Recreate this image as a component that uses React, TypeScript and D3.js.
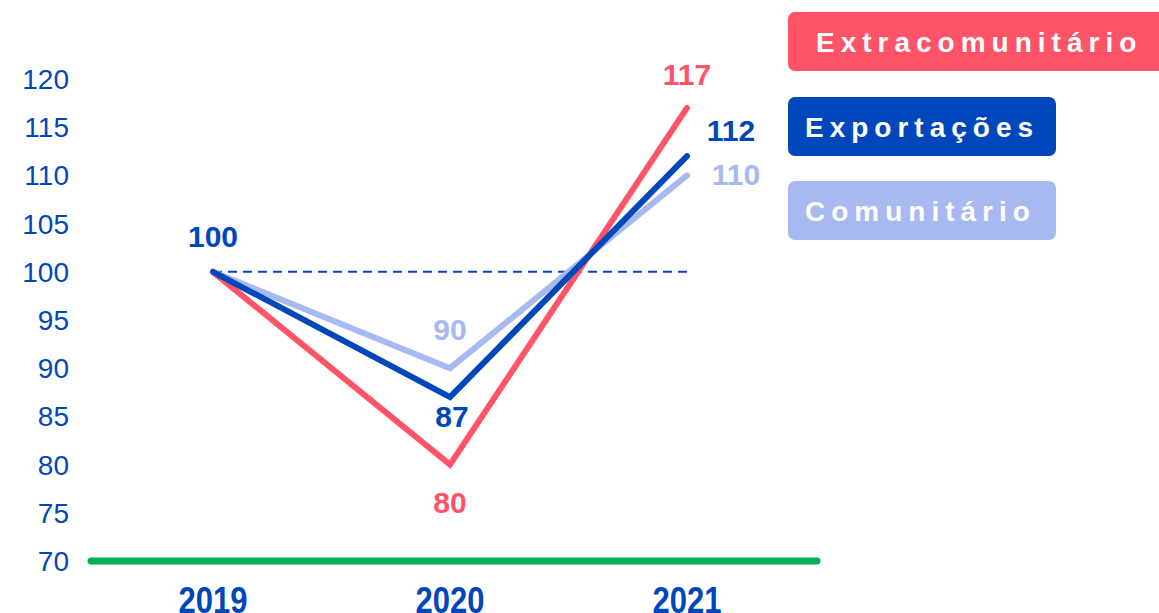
import React from 'react';
import * as d3 from 'd3';

// chart values
const years = ['2019', '2020', '2021'];
const extracomunitario = [100, 80, 117];
const exportacoes = [100, 87, 112];
const comunitario = [100, 90, 110];
const yTicks = [70, 75, 80, 85, 90, 95, 100, 105, 110, 115, 120];
const legendLabels = ['Extracomunitário', 'Exportações', 'Comunitário'];

const RED = '#FF5468';
const BLUE = '#0047BB';
const LIGHT = '#A7B9F1';
const GREEN = '#00B050';

const W = 1159;
const H = 613;

interface Series {
  name: string;
  values: number[];
  color: string;
  // label offsets per point [dx, dy] relative to the point, null = no label
  labels: ([number, number] | null)[];
}

const App: React.FC = () => {
  const x = d3.scalePoint<string>().domain(years).range([213, 687]);
  const y = d3.scaleLinear().domain([70, 120]).range([561, 79]);

  const line = d3
    .line<number>()
    .x((_, i) => x(years[i])!)
    .y(d => y(d));

  const series: Series[] = [
    { name: legendLabels[0], values: extracomunitario, color: RED, labels: [null, [0, 48], [0, -23]] },
    { name: legendLabels[2], values: comunitario, color: LIGHT, labels: [null, [0, -28], [49, 10]] },
    { name: legendLabels[1], values: exportacoes, color: BLUE, labels: [[0, -25], [2, 30], [44, -15]] },
  ];

  const legend = [
    { label: legendLabels[0], color: RED, y: 12, w: 380 },
    { label: legendLabels[1], color: BLUE, y: 97, w: 268 },
    { label: legendLabels[2], color: LIGHT, y: 181, w: 268 },
  ];

  const sans = 'Arial, "Liberation Sans", Helvetica, sans-serif';

  return (
    <svg width={W} height={H} style={{ position: 'absolute', left: 0, top: 0, background: '#fff' }}>
      {/* y tick labels */}
      <g fontFamily={sans} fontSize={28} fill={BLUE} textAnchor="end">
        {yTicks.map(t => (
          <text key={t} x={69} y={y(t)} dy="0.36em">
            {t}
          </text>
        ))}
      </g>

      {/* baseline */}
      <line x1={91} x2={817} y1={y(70)} y2={y(70)} stroke={GREEN} strokeWidth={7} strokeLinecap="round" />

      {/* year labels (tall, condensed look) */}
      <g fontFamily={sans} fontWeight="bold" fontSize={31} fill={BLUE} textAnchor="middle">
        {years.map(yr => (
          <text key={yr} transform={`translate(${x(yr)},613) scale(1,1.2)`}>
            {yr}
          </text>
        ))}
      </g>

      {/* reference line at 100 */}
      <line
        x1={x(years[0])}
        x2={x(years[2])}
        y1={y(100)}
        y2={y(100)}
        stroke={BLUE}
        strokeWidth={2}
        strokeDasharray="9 6"
      />

      {/* series lines */}
      {series.map(s => (
        <path
          key={s.name}
          d={line(s.values) ?? ''}
          fill="none"
          stroke={s.color}
          strokeWidth={6}
          strokeLinecap="round"
          strokeLinejoin="miter"
        />
      ))}

      {/* data labels */}
      <g fontFamily={sans} fontWeight="bold" fontSize={30} textAnchor="middle">
        {series.map(s =>
          s.values.map((v, i) => {
            const off = s.labels[i];
            if (!off) return null;
            return (
              <text key={s.name + i} x={x(years[i])! + off[0]} y={y(v) + off[1]} fill={s.color}>
                {v}
              </text>
            );
          })
        )}
      </g>

      {/* legend */}
      {legend.map(l => (
        <g key={l.label} transform={`translate(788,${l.y})`}>
          <rect width={l.w} height={59} rx={7} fill={l.color} />
          <text
            x={l.label === legendLabels[0] ? 28 : 17}
            y={40}
            fill="#fff"
            fontFamily={sans}
            fontWeight="bold"
            fontSize={28}
            letterSpacing={6}
          >
            {l.label}
          </text>
        </g>
      ))}
    </svg>
  );
};

export default App;
